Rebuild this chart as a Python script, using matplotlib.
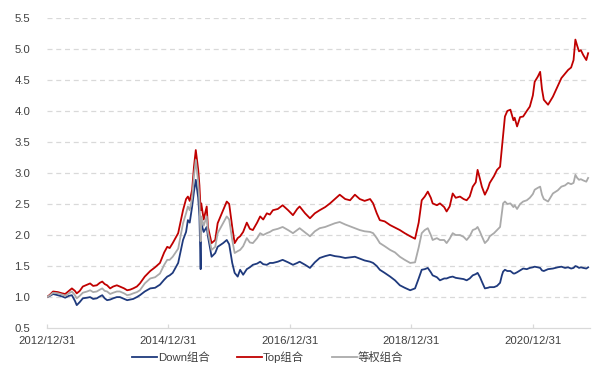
import matplotlib
matplotlib.use("Agg")
import matplotlib.pyplot as plt

plt.rcParams['font.family'] = ['Liberation Sans', 'Noto Sans CJK SC', 'DejaVu Sans']

# time in decimal years (2013.00 == 2012/12/31)
t = [2013.00, 2013.05, 2013.10, 2013.18, 2013.25, 2013.30, 2013.36, 2013.41, 2013.46, 2013.49,
     2013.54, 2013.59, 2013.66, 2013.71, 2013.76, 2013.82, 2013.87, 2013.91, 2013.95, 2013.99,
     2014.04, 2014.09, 2014.15, 2014.20, 2014.27, 2014.32, 2014.37, 2014.42, 2014.48, 2014.53,
     2014.61, 2014.70, 2014.78, 2014.86, 2014.93, 2014.98, 2015.02, 2015.07, 2015.16, 2015.24,
     2015.29, 2015.32, 2015.35, 2015.39, 2015.42, 2015.45, 2015.49, 2015.51, 2015.53, 2015.54,
     2015.58, 2015.63, 2015.65, 2015.71, 2015.77, 2015.81, 2015.90, 2015.96, 2016.00, 2016.05,
     2016.09, 2016.14, 2016.18, 2016.23, 2016.29, 2016.34, 2016.39, 2016.46, 2016.51, 2016.56,
     2016.62, 2016.67, 2016.72, 2016.80, 2016.88, 2016.97, 2017.05, 2017.12, 2017.16, 2017.25,
     2017.33, 2017.41, 2017.49, 2017.58, 2017.66, 2017.74, 2017.82, 2017.91, 2017.99, 2018.07,
     2018.15, 2018.23, 2018.32, 2018.37, 2018.43, 2018.48, 2018.56, 2018.65, 2018.73, 2018.81,
     2018.89, 2018.98, 2019.06, 2019.12, 2019.17, 2019.22, 2019.27, 2019.32, 2019.35, 2019.42,
     2019.47, 2019.54, 2019.58, 2019.63, 2019.68, 2019.73, 2019.80, 2019.86, 2019.91, 2019.96,
     2020.01, 2020.06, 2020.09, 2020.13, 2020.16, 2020.21, 2020.26, 2020.29, 2020.36, 2020.41,
     2020.46, 2020.49, 2020.51, 2020.54, 2020.58, 2020.63, 2020.68, 2020.70, 2020.74, 2020.79,
     2020.84, 2020.90, 2020.95, 2021.00, 2021.03, 2021.08, 2021.12, 2021.15, 2021.18, 2021.25,
     2021.33, 2021.41, 2021.47, 2021.53, 2021.58, 2021.63, 2021.67, 2021.70, 2021.73, 2021.76,
     2021.79, 2021.83, 2021.88, 2021.91]

top = [1.00, 1.04, 1.09, 1.08, 1.06, 1.05, 1.10, 1.14, 1.10, 1.06,
       1.10, 1.17, 1.20, 1.22, 1.18, 1.19, 1.23, 1.25, 1.21, 1.19,
       1.14, 1.17, 1.19, 1.17, 1.14, 1.11, 1.12, 1.14, 1.17, 1.22,
       1.33, 1.42, 1.48, 1.55, 1.72, 1.81, 1.79, 1.87, 2.03, 2.40,
       2.58, 2.62, 2.55, 2.73, 3.10, 3.37, 3.05, 2.80, 2.40, 2.51,
       2.25, 2.46, 2.13, 1.87, 1.92, 2.19, 2.40, 2.54, 2.50, 2.13,
       1.87, 1.95, 1.98, 2.05, 2.20, 2.10, 2.08, 2.20, 2.30, 2.25,
       2.35, 2.33, 2.40, 2.42, 2.48, 2.40, 2.32, 2.42, 2.46, 2.35,
       2.27, 2.35, 2.40, 2.45, 2.51, 2.58, 2.65, 2.58, 2.56, 2.65,
       2.58, 2.55, 2.58, 2.51, 2.35, 2.24, 2.22, 2.16, 2.12, 2.08,
       2.03, 1.98, 1.94, 2.20, 2.56, 2.62, 2.70, 2.60, 2.51, 2.48,
       2.51, 2.45, 2.38, 2.46, 2.67, 2.60, 2.62, 2.58, 2.56, 2.62,
       2.78, 2.85, 3.05, 2.90, 2.78, 2.65, 2.75, 2.84, 2.95, 3.05,
       3.10, 3.40, 3.59, 3.91, 4.00, 4.02, 3.85, 3.89, 3.75, 3.90,
       3.91, 4.00, 4.07, 4.25, 4.47, 4.55, 4.63, 4.35, 4.18, 4.10,
       4.23, 4.40, 4.53, 4.60, 4.66, 4.70, 4.82, 5.15, 5.05, 4.96,
       4.98, 4.90, 4.82, 4.93]

equal = [1.00, 1.03, 1.07, 1.06, 1.04, 1.02, 1.06, 1.09, 1.03, 0.98,
         1.02, 1.07, 1.09, 1.11, 1.08, 1.09, 1.12, 1.14, 1.10, 1.09,
         1.05, 1.07, 1.09, 1.09, 1.06, 1.03, 1.04, 1.06, 1.08, 1.11,
         1.22, 1.30, 1.32, 1.38, 1.52, 1.60, 1.60, 1.65, 1.78, 2.19,
         2.35, 2.46, 2.40, 2.60, 2.95, 3.21, 2.85, 2.55, 1.90, 2.30,
         2.15, 2.30, 2.05, 1.76, 1.81, 2.03, 2.19, 2.30, 2.25, 1.92,
         1.71, 1.74, 1.76, 1.82, 1.95, 1.88, 1.87, 1.95, 2.03, 2.00,
         2.03, 2.05, 2.08, 2.10, 2.13, 2.08, 2.03, 2.08, 2.11, 2.04,
         1.98, 2.06, 2.11, 2.13, 2.16, 2.19, 2.21, 2.17, 2.14, 2.11,
         2.08, 2.06, 2.05, 2.03, 1.95, 1.87, 1.82, 1.76, 1.72, 1.65,
         1.60, 1.55, 1.56, 1.80, 2.03, 2.08, 2.11, 2.00, 1.92, 1.95,
         1.92, 1.92, 1.87, 1.94, 2.03, 2.00, 2.00, 1.97, 1.92, 1.98,
         2.08, 2.10, 2.13, 2.05, 1.98, 1.87, 1.92, 1.98, 2.03, 2.08,
         2.13, 2.35, 2.51, 2.54, 2.50, 2.51, 2.45, 2.48, 2.42, 2.50,
         2.54, 2.56, 2.60, 2.66, 2.73, 2.76, 2.78, 2.65, 2.58, 2.54,
         2.67, 2.72, 2.78, 2.80, 2.84, 2.82, 2.84, 2.97, 2.92, 2.89,
         2.90, 2.88, 2.86, 2.92]

down = [1.00, 1.02, 1.05, 1.03, 1.01, 0.99, 1.02, 1.03, 0.94, 0.87,
        0.92, 0.98, 0.99, 1.00, 0.97, 0.98, 1.01, 1.03, 0.98, 0.95,
        0.96, 0.98, 1.00, 1.00, 0.97, 0.95, 0.96, 0.97, 1.00, 1.03,
        1.09, 1.14, 1.15, 1.20, 1.28, 1.33, 1.35, 1.39, 1.55, 1.92,
        2.05, 2.24, 2.20, 2.46, 2.70, 2.89, 2.60, 2.30, 1.45, 2.19,
        2.05, 2.13, 1.98, 1.65, 1.71, 1.81, 1.87, 1.92, 1.85, 1.55,
        1.39, 1.33, 1.44, 1.36, 1.45, 1.48, 1.52, 1.54, 1.57, 1.53,
        1.52, 1.55, 1.55, 1.57, 1.60, 1.56, 1.52, 1.55, 1.57, 1.52,
        1.47, 1.56, 1.63, 1.66, 1.68, 1.66, 1.65, 1.63, 1.64, 1.65,
        1.62, 1.59, 1.57, 1.55, 1.50, 1.44, 1.39, 1.33, 1.27, 1.19,
        1.15, 1.11, 1.14, 1.30, 1.44, 1.45, 1.47, 1.40, 1.35, 1.32,
        1.27, 1.30, 1.30, 1.32, 1.33, 1.31, 1.30, 1.29, 1.27, 1.30,
        1.35, 1.37, 1.39, 1.32, 1.25, 1.14, 1.15, 1.16, 1.16, 1.18,
        1.23, 1.35, 1.41, 1.44, 1.42, 1.42, 1.38, 1.38, 1.40, 1.43,
        1.46, 1.45, 1.47, 1.48, 1.49, 1.48, 1.47, 1.43, 1.42, 1.45,
        1.46, 1.48, 1.49, 1.47, 1.48, 1.46, 1.47, 1.50, 1.49, 1.47,
        1.48, 1.47, 1.46, 1.48]

xtick_pos = [2013, 2015, 2017, 2019, 2021]
xtick_labels = ['2012/12/31', '2014/12/31', '2016/12/31', '2018/12/31', '2020/12/31']
yticks = [0.5, 1.0, 1.5, 2.0, 2.5, 3.0, 3.5, 4.0, 4.5, 5.0, 5.5]
series_names = ['Down组合', 'Top组合', '等权组合']

fig = plt.figure(figsize=(5.97, 3.72), dpi=100)
ax = fig.add_axes([0.0787, 0.118, 0.9095, 0.834])

ax.plot(t, down, color='#1f3a7d', lw=1.3, label=series_names[0], zorder=3)
ax.plot(t, top, color='#c00000', lw=1.3, label=series_names[1], zorder=3)
ax.plot(t, equal, color='#aaaaaa', lw=1.3, label=series_names[2], zorder=3)

ax.set_xlim(2013.0, 2021.94)
ax.set_ylim(0.5, 5.5)
ax.set_yticks(yticks)
ax.set_yticklabels([f'{v:.1f}' for v in yticks])
ax.set_xticks(xtick_pos)
ax.set_xticklabels(xtick_labels)

for v in yticks[1:]:
    ax.axhline(v, color='#d9d9d9', lw=0.9, ls=(0, (4, 3)), zorder=1)

for s in ['top', 'right', 'left']:
    ax.spines[s].set_visible(False)
ax.spines['bottom'].set_color('#d9d9d9')
ax.spines['bottom'].set_linewidth(0.9)

ax.tick_params(axis='y', length=0, pad=12, labelsize=8.2, labelcolor='#404040')
ax.tick_params(axis='x', direction='in', length=3, color='#d9d9d9', width=0.9,
               pad=6, labelsize=8.2, labelcolor='#404040')

leg = ax.legend(loc='center', bbox_to_anchor=(0.406, -0.094), ncol=3, frameon=False,
                fontsize=8.2, handlelength=2.2, handletextpad=0.1, columnspacing=2.4)
for txt in leg.get_texts():
    txt.set_color('#404040')

fig.savefig('out.png', dpi=100)
